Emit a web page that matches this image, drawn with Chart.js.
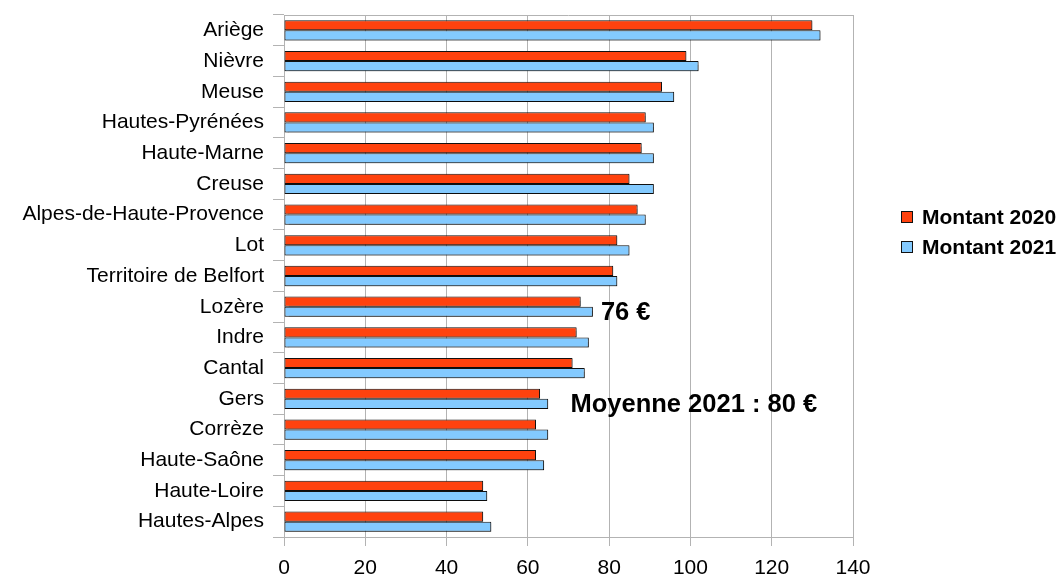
<!DOCTYPE html>
<html>
<head>
<meta charset="utf-8">
<script src="https://cdn.jsdelivr.net/npm/chart.js@4.4.1/dist/chart.umd.min.js"></script>
<style>
  html, body { margin: 0; padding: 0; background: #fff; }
  #wrap { width: 1063px; height: 577px; }
</style>
</head>
<body>
<div id="wrap"><canvas id="chart" width="1063" height="577"></canvas></div>
<script>
// Départements (top to bottom)
const departements = [
    'Ariège', 'Nièvre', 'Meuse', 'Hautes-Pyrénées', 'Haute-Marne', 'Creuse',
    'Alpes-de-Haute-Provence', 'Lot', 'Territoire de Belfort', 'Lozère', 'Indre',
    'Cantal', 'Gers', 'Corrèze', 'Haute-Saône', 'Haute-Loire', 'Hautes-Alpes'
];
const montant2020 = [130, 99, 93, 89, 88, 85, 87, 82, 81, 73, 72, 71, 63, 62, 62, 49, 49];
const montant2021 = [132, 102, 96, 91, 91, 91, 89, 85, 82, 76, 75, 74, 65, 65, 64, 50, 51];
const seriesNames = ['Montant 2020', 'Montant 2021'];
const xMin = 0, xMax = 140, xStep = 20;
const noteLozere = '76 €';
const noteMoyenne = 'Moyenne 2021 : 80 €';

const FONT = "'Liberation Sans', Arial, sans-serif";
const GRID = '#b3b3b3';

// plot frame (top border) + soft shadow under the bars
const framePlugin = {
    id: 'frame',
    beforeDatasetsDraw(chart) {
        const { ctx, chartArea: a } = chart;
        ctx.save();
        ctx.strokeStyle = GRID;
        ctx.lineWidth = 1;
        ctx.beginPath();
        ctx.moveTo(a.left, Math.round(a.top) + 0.5);
        ctx.lineTo(a.right, Math.round(a.top) + 0.5);
        ctx.stroke();
        ctx.restore();

        ctx.save();
        ctx.shadowColor = 'rgba(0,0,0,0.3)';
        ctx.shadowOffsetX = 1;
        ctx.shadowOffsetY = 1;
        ctx.shadowBlur = 1;
    },
    afterDatasetsDraw(chart) {
        chart.ctx.restore();
    }
};

// text annotations + legend on the right
const notesPlugin = {
    id: 'notes',
    afterDraw(chart) {
        const { ctx } = chart;
        const x = chart.scales.x;
        const y = chart.scales.y;
        const band = y.getPixelForValue(1) - y.getPixelForValue(0);

        ctx.save();
        ctx.fillStyle = '#000';
        ctx.font = `bold 25.5px ${FONT}`;
        ctx.textBaseline = 'middle';
        ctx.textAlign = 'left';

        // next to Lozère's 2021 bar
        const iLoz = departements.indexOf('Lozère');
        ctx.fillText(noteLozere, x.getPixelForValue(montant2021[iLoz]) + 8,
            y.getPixelForValue(iLoz) + band * 0.17 + 1);

        // average note beside Gers
        const iGers = departements.indexOf('Gers');
        ctx.fillText(noteMoyenne, x.getPixelForValue(70) + 2,
            y.getPixelForValue(iGers) + band * 0.2);

        // legend
        ctx.font = `bold 21px ${FONT}`;
        chart.data.datasets.forEach((ds, i) => {
            const cy = 217 + i * 30;
            ctx.fillStyle = ds.backgroundColor;
            ctx.fillRect(901, cy - 6, 12, 12);
            ctx.strokeStyle = '#111';
            ctx.lineWidth = 1;
            ctx.strokeRect(901.5, cy - 5.5, 11, 11);
            ctx.fillStyle = '#000';
            ctx.fillText(ds.label, 922, cy + 1);
        });
        ctx.restore();
    }
};

new Chart(document.getElementById('chart'), {
    type: 'bar',
    data: {
        labels: departements,
        datasets: [
            {
                label: seriesNames[0],
                data: montant2020,
                backgroundColor: '#ff420e',
                borderColor: '#111',
                borderWidth: 1,
                borderSkipped: false
            },
            {
                label: seriesNames[1],
                data: montant2021,
                backgroundColor: '#83caff',
                borderColor: '#111',
                borderWidth: 1,
                borderSkipped: false
            }
        ]
    },
    options: {
        indexAxis: 'y',
        responsive: false,
        animation: false,
        devicePixelRatio: 1,
        categoryPercentage: 0.66,
        barPercentage: 1,
        layout: { padding: { top: 15, right: 210, bottom: 0, left: 0 } },
        plugins: {
            legend: { display: false },
            tooltip: { enabled: false }
        },
        scales: {
            x: {
                min: xMin,
                max: xMax,
                ticks: {
                    stepSize: xStep,
                    color: '#000',
                    font: { family: FONT, size: 21, lineHeight: 1 },
                    padding: 12
                },
                grid: { color: GRID, tickLength: 9, lineWidth: 1 },
                border: { color: GRID },
                afterFit(scale) { scale.height = 40; }
            },
            y: {
                ticks: {
                    color: '#000',
                    font: { family: FONT, size: 21 },
                    padding: 9
                },
                grid: { drawOnChartArea: false, color: GRID, tickLength: 11, offset: true },
                border: { color: GRID },
                afterFit(scale) {
                    scale.width = 284;
                    scale.paddingTop = 0;
                    scale.paddingBottom = 0;
                }
            }
        }
    },
    plugins: [framePlugin, notesPlugin]
});
</script>
</body>
</html>
